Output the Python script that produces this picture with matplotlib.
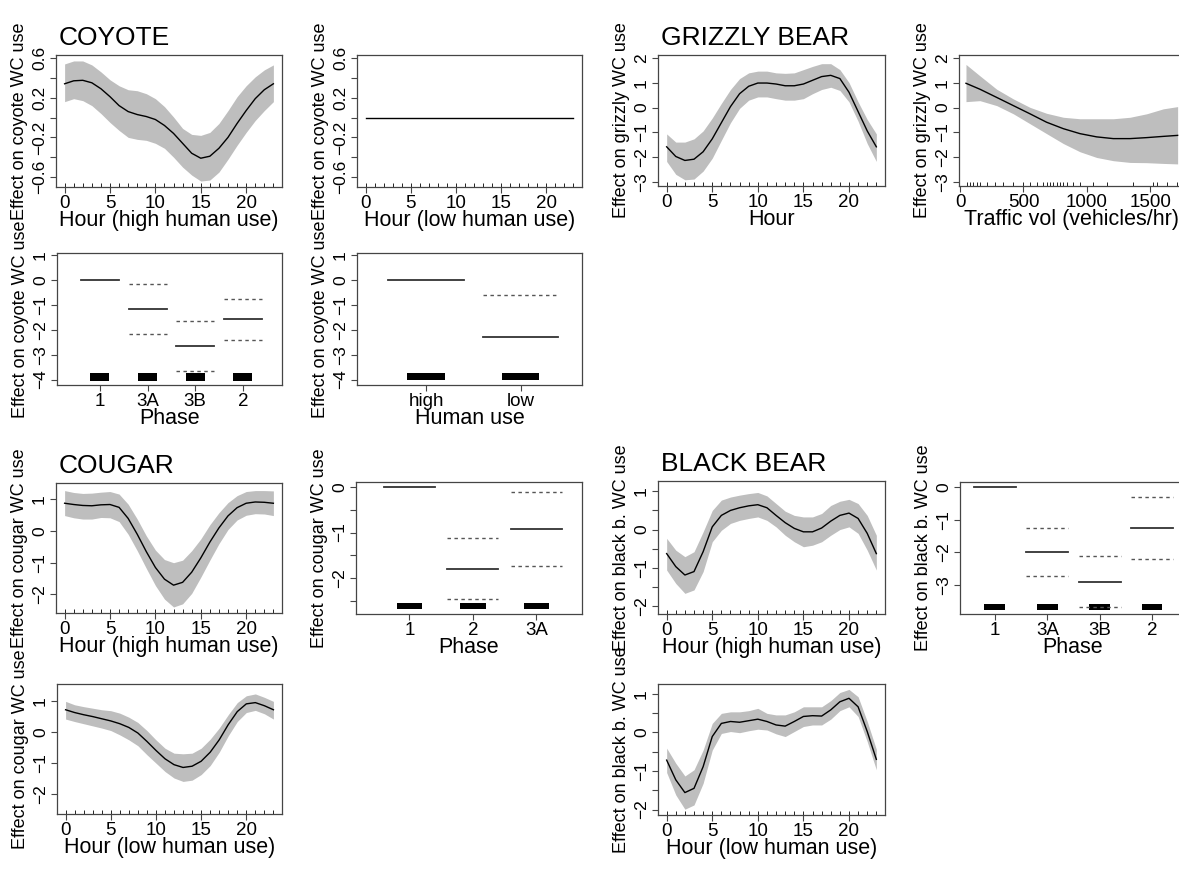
"""GAM partial-effect panels for wildlife-crossing (WC) use: coyote, grizzly,
cougar and black bear. Smooth terms with +/-2 SE bands, factor terms as
segments with dashed CIs and a rug of (jittered) observations."""
import numpy as np
import matplotlib
matplotlib.use("Agg")
import matplotlib.pyplot as plt

plt.rcParams["font.family"] = ["Liberation Sans", "DejaVu Sans"]

# ---- data ---------------------------------------------------------------
hours = list(range(24))

coyote_hi_fit = [0.34, 0.37, 0.375, 0.35, 0.29, 0.21, 0.12, 0.06, 0.03, 0.01, -0.02, -0.08,
                 -0.16, -0.26, -0.36, -0.41, -0.39, -0.31, -0.20, -0.06, 0.07, 0.19, 0.28, 0.34]
coyote_hi_up = [0.54, 0.57, 0.57, 0.53, 0.46, 0.38, 0.32, 0.28, 0.27, 0.24, 0.19, 0.11,
                0.005, -0.11, -0.17, -0.18, -0.15, -0.06, 0.07, 0.21, 0.32, 0.41, 0.48, 0.53]
coyote_hi_lo = [0.16, 0.19, 0.17, 0.12, 0.04, -0.05, -0.13, -0.20, -0.22, -0.23, -0.26, -0.31,
                -0.40, -0.50, -0.58, -0.64, -0.63, -0.55, -0.42, -0.28, -0.15, -0.03, 0.07, 0.16]

coyote_lo_hours = [0, 23]
coyote_lo_fit = [0.0, 0.0]

grizzly_fit = [-1.58, -1.97, -2.13, -2.08, -1.78, -1.26, -0.61, 0.04, 0.56, 0.86, 0.99, 0.99,
               0.95, 0.88, 0.88, 0.95, 1.10, 1.25, 1.30, 1.17, 0.62, -0.16, -0.94, -1.58]
grizzly_up = [-1.06, -1.39, -1.39, -1.26, -0.94, -0.42, 0.17, 0.73, 1.17, 1.40, 1.47, 1.47,
              1.40, 1.38, 1.40, 1.53, 1.66, 1.77, 1.77, 1.53, 1.01, 0.23, -0.48, -1.06]
grizzly_lo = [-2.17, -2.69, -2.91, -2.88, -2.56, -2.04, -1.32, -0.61, -0.03, 0.30, 0.43, 0.43,
              0.36, 0.30, 0.30, 0.36, 0.56, 0.73, 0.82, 0.69, 0.23, -0.55, -1.45, -2.17]

traffic = [47, 157, 289, 420, 551, 682, 814, 945, 1076, 1207, 1339, 1470, 1601, 1714]
traffic_fit = [0.98, 0.74, 0.41, 0.08, -0.25, -0.59, -0.85, -1.05, -1.18, -1.25, -1.25, -1.21, -1.16, -1.12]
traffic_up = [1.74, 1.28, 0.74, 0.35, 0.01, -0.23, -0.39, -0.45, -0.45, -0.45, -0.39, -0.25, -0.05, 0.04]
traffic_lo = [0.24, 0.28, 0.08, -0.25, -0.65, -1.05, -1.45, -1.78, -2.01, -2.14, -2.21, -2.22, -2.25, -2.27]
traffic_rug = [52, 79, 105, 131, 157, 210, 276, 341, 420, 499, 551, 604, 656, 682, 709, 735,
               761, 787, 814, 840, 892, 945, 1050, 1155, 1365, 1522, 1549, 1627, 1706]

coyote_phase = ["1", "3A", "3B", "2"]
coyote_phase_est = [0.0, -1.14, -2.66, -1.58]
coyote_phase_up = [np.nan, -0.14, -1.66, -0.75]
coyote_phase_lo = [np.nan, -2.15, -3.66, -2.40]

coyote_use = ["high", "low"]
coyote_use_est = [0.0, -2.28]
coyote_use_up = [np.nan, -0.60]
coyote_use_lo = [np.nan, np.nan]

cougar_hi_fit = [0.88, 0.84, 0.81, 0.80, 0.83, 0.84, 0.75, 0.40, -0.10, -0.65, -1.15, -1.52,
                 -1.71, -1.62, -1.30, -0.85, -0.35, 0.10, 0.48, 0.74, 0.88, 0.92, 0.91, 0.88]
cougar_hi_up = [1.28, 1.22, 1.19, 1.20, 1.23, 1.25, 1.17, 0.85, 0.38, -0.15, -0.60, -0.90,
                -1.00, -0.92, -0.62, -0.25, 0.20, 0.58, 0.90, 1.12, 1.25, 1.28, 1.28, 1.27]
cougar_hi_lo = [0.49, 0.42, 0.38, 0.38, 0.43, 0.42, 0.30, -0.10, -0.62, -1.18, -1.72, -2.15,
                -2.40, -2.30, -1.97, -1.46, -0.92, -0.40, 0.05, 0.35, 0.50, 0.55, 0.54, 0.49]

cougar_phase = ["1", "2", "3A"]
cougar_phase_est = [0.0, -1.80, -0.92]
cougar_phase_up = [np.nan, -1.12, -0.11]
cougar_phase_lo = [np.nan, -2.47, -1.74]

cougar_lo_fit = [0.71, 0.62, 0.55, 0.49, 0.42, 0.35, 0.26, 0.14, -0.04, -0.31, -0.60, -0.87,
                 -1.06, -1.15, -1.11, -0.95, -0.66, -0.26, 0.23, 0.65, 0.90, 0.94, 0.84, 0.71]
cougar_lo_up = [0.98, 0.87, 0.81, 0.76, 0.71, 0.68, 0.60, 0.47, 0.30, 0.04, -0.26, -0.53,
                -0.69, -0.71, -0.69, -0.53, -0.24, 0.12, 0.55, 0.94, 1.16, 1.22, 1.11, 0.98]
cougar_lo_lo = [0.41, 0.33, 0.26, 0.19, 0.12, 0.04, -0.10, -0.26, -0.45, -0.74, -1.01, -1.28,
                -1.49, -1.60, -1.56, -1.38, -1.09, -0.66, -0.13, 0.33, 0.62, 0.69, 0.58, 0.41]

bb_hi_fit = [-0.63, -0.97, -1.19, -1.10, -0.58, 0.07, 0.37, 0.50, 0.57, 0.62, 0.65, 0.57,
             0.37, 0.18, 0.03, -0.06, -0.06, 0.04, 0.22, 0.37, 0.43, 0.29, -0.10, -0.63]
bb_hi_up = [-0.23, -0.54, -0.71, -0.58, -0.06, 0.50, 0.77, 0.85, 0.90, 0.94, 0.97, 0.88,
            0.68, 0.48, 0.37, 0.33, 0.33, 0.42, 0.63, 0.74, 0.79, 0.68, 0.37, -0.15]
bb_hi_lo = [-1.06, -1.41, -1.67, -1.58, -1.10, -0.32, -0.02, 0.16, 0.24, 0.29, 0.33, 0.24,
            0.07, -0.15, -0.32, -0.45, -0.41, -0.32, -0.15, 0.00, 0.07, -0.10, -0.54, -1.06]

bb_phase = ["1", "3A", "3B", "2"]
bb_phase_est = [0.0, -2.00, -2.90, -1.27]
bb_phase_up = [np.nan, -1.27, -2.12, -0.32]
bb_phase_lo = [np.nan, -2.73, -3.69, -2.21]

bb_lo_fit = [-0.72, -1.23, -1.56, -1.45, -0.89, -0.11, 0.23, 0.28, 0.26, 0.30, 0.34, 0.28,
             0.19, 0.16, 0.28, 0.41, 0.43, 0.42, 0.58, 0.79, 0.88, 0.66, 0.02, -0.70]
bb_lo_up = [-0.41, -0.80, -1.13, -0.97, -0.46, 0.23, 0.49, 0.53, 0.53, 0.56, 0.62, 0.49,
            0.45, 0.45, 0.53, 0.66, 0.66, 0.66, 0.82, 1.03, 1.11, 0.92, 0.28, -0.44]
bb_lo_lo = [-1.04, -1.62, -1.99, -1.88, -1.32, -0.46, -0.03, 0.02, -0.01, 0.04, 0.08, 0.06,
            -0.04, -0.11, 0.02, 0.15, 0.19, 0.19, 0.34, 0.56, 0.66, 0.41, -0.24, -0.97]

# ---- drawing helpers -----------------------------------------------------
W, H = 1179, 881
BAND = "#bebebe"
FRAME = "#454545"
fig = plt.figure(figsize=(W / 100, H / 100), dpi=100)


def add_ax(l, t, r, b):
    return fig.add_axes([l / W, 1 - b / H, (r - l) / W, (b - t) / H])


def fmt(v):
    return ("%g" % v).replace("-", "\u2212")


def style(ax, xlim, ylim, yticks, ylabels, ylabel, xlabel, title=None):
    ax.set_xlim(*xlim); ax.set_ylim(*ylim)
    for s in ax.spines.values():
        s.set_color(FRAME); s.set_linewidth(0.9)
    ax.set_yticks(yticks)
    ax.set_yticklabels(ylabels, rotation=90, va="center", fontsize=12.5)
    ax.tick_params(axis="both", direction="out", length=4.5, width=0.8, color=FRAME, pad=2)
    ax.tick_params(axis="x", labelsize=13.5, pad=1.5)
    ax.set_ylabel(ylabel, fontsize=13, labelpad=3)
    ax.set_xlabel(xlabel, fontsize=15.5, labelpad=-2)
    if title:
        ax.text(0.012, 1.075, title, transform=ax.transAxes, fontsize=19, va="baseline")


def smooth(ax, x, fit, lo=None, up=None, rug=None):
    if lo is not None:
        ax.fill_between(x, lo, up, color=BAND, lw=0)
    ax.plot(x, fit, color="black", lw=1.0)
    if rug is not None:
        ax.vlines(rug, 0, 0.03, transform=ax.get_xaxis_transform(), color="black", lw=0.6)


def factor(ax, levels, est, up, lo, rug_y):
    pos = np.arange(1, len(levels) + 1)
    for p, e, u, l in zip(pos, est, up, lo):
        ax.plot([p - 0.4, p + 0.4], [e, e], color="#333333", lw=1.3)
        for v in (u, l):
            if not np.isnan(v):
                ax.plot([p - 0.4, p + 0.4], [v, v], color="#555555", lw=1.0, ls=(0, (2.5, 2.5)))
    ax.bar(pos, rug_y[1] - rug_y[0], bottom=rug_y[0], width=0.4, color="black")
    ax.set_xticks(pos)
    ax.set_xticklabels(levels)


HOUR_X = (-0.95, 23.95)
hour_ticks = [0, 5, 10, 15, 20]

# Row 1 -------------------------------------------------------------------
yt = [0.6, 0.4, 0.2, 0.0, -0.2, -0.4, -0.6]
yl = ["0.6", "", "0.2", "", "\u22120.2", "", "\u22120.6"]

ax = add_ax(56, 55, 282, 187)
smooth(ax, hours, coyote_hi_fit, coyote_hi_lo, coyote_hi_up, rug=hours)
style(ax, HOUR_X, (-0.70, 0.63), yt, yl, "Effect on coyote WC use", "Hour (high human use)", "COYOTE")
ax.set_xticks(hour_ticks)

ax = add_ax(357, 55, 582, 187)
smooth(ax, coyote_lo_hours, coyote_lo_fit, rug=hours)
style(ax, HOUR_X, (-0.70, 0.63), yt, yl, "Effect on coyote WC use", "Hour (low human use)")
ax.set_xticks(hour_ticks)

gt = [2, 1, 0, -1, -2, -3]
ax = add_ax(658, 55, 885, 186)
smooth(ax, hours, grizzly_fit, grizzly_lo, grizzly_up, rug=hours)
style(ax, HOUR_X, (-3.16, 2.12), gt, [fmt(v) for v in gt], "Effect on grizzly WC use", "Hour", "GRIZZLY BEAR")
ax.set_xticks(hour_ticks)

ax = add_ax(959, 55, 1185, 186)
smooth(ax, traffic, traffic_fit, traffic_lo, traffic_up, rug=traffic_rug)
style(ax, (-8, 1772), (-3.16, 2.12), gt, [fmt(v) for v in gt], "Effect on grizzly WC use",
      "Traffic vol (vehicles/hr)")
ax.set_xticks([0, 500, 1000, 1500])

# Row 2 -------------------------------------------------------------------
pt = [1, 0, -1, -2, -3, -4]
ax = add_ax(57, 253, 282, 385)
factor(ax, coyote_phase, coyote_phase_est, coyote_phase_up, coyote_phase_lo, (-4.07, -3.75))
style(ax, (0.1, 4.82), (-4.22, 1.1), pt, [fmt(v) for v in pt], "Effect on coyote WC use", "Phase")

ax = add_ax(357, 253, 582, 385)
factor(ax, coyote_use, coyote_use_est, coyote_use_up, coyote_use_lo, (-4.03, -3.73))
style(ax, (0.27, 2.65), (-4.22, 1.1), pt, [fmt(v) for v in pt], "Effect on coyote WC use", "Human use")

# Row 3 -------------------------------------------------------------------
ct = [1, 0, -1, -2]
ax = add_ax(56, 483, 282, 613)
smooth(ax, hours, cougar_hi_fit, cougar_hi_lo, cougar_hi_up, rug=hours)
style(ax, HOUR_X, (-2.59, 1.52), ct, [fmt(v) for v in ct], "Effect on cougar WC use",
      "Hour (high human use)", "COUGAR")
ax.set_xticks(hour_ticks)

cpt = [0, -0.5, -1, -1.5, -2, -2.5]
ax = add_ax(356, 482, 582, 614)
factor(ax, cougar_phase, cougar_phase_est, cougar_phase_up, cougar_phase_lo, (-2.69, -2.55))
style(ax, (0.16, 3.72), (-2.79, 0.11), cpt, ["0", "", "\u22121", "", "\u22122", ""],
      "Effect on cougar WC use", "Phase")

bt = [1, 0.5, 0, -0.5, -1, -1.5, -2]
btl = ["1", "", "0", "", "\u22121", "", "\u22122"]
ax = add_ax(658, 481, 885, 614)
smooth(ax, hours, bb_hi_fit, bb_hi_lo, bb_hi_up, rug=hours)
style(ax, HOUR_X, (-2.21, 1.27), bt, btl, "Effect on black b. WC use", "Hour (high human use)", "BLACK BEAR")
ax.set_xticks(hour_ticks)

bpt = [0, -1, -2, -3]
ax = add_ax(960, 482, 1185, 614)
factor(ax, bb_phase, bb_phase_est, bb_phase_up, bb_phase_lo, (-3.76, -3.58))
style(ax, (0.332, 4.63), (-3.89, 0.15), bpt, [fmt(v) for v in bpt], "Effect on black b. WC use", "Phase")

# Row 4 -------------------------------------------------------------------
ax = add_ax(57, 684, 282, 814)
smooth(ax, hours, cougar_lo_fit, cougar_lo_lo, cougar_lo_up, rug=hours)
style(ax, HOUR_X, (-2.65, 1.54), ct, [fmt(v) for v in ct], "Effect on cougar WC use", "Hour (low human use)")
ax.set_xticks(hour_ticks)

ax = add_ax(658, 684, 885, 815)
smooth(ax, hours, bb_lo_fit, bb_lo_lo, bb_lo_up, rug=hours)
style(ax, HOUR_X, (-2.14, 1.25), bt, btl, "Effect on black b. WC use", "Hour (low human use)")
ax.set_xticks(hour_ticks)

fig.savefig("out.png", dpi=100)
